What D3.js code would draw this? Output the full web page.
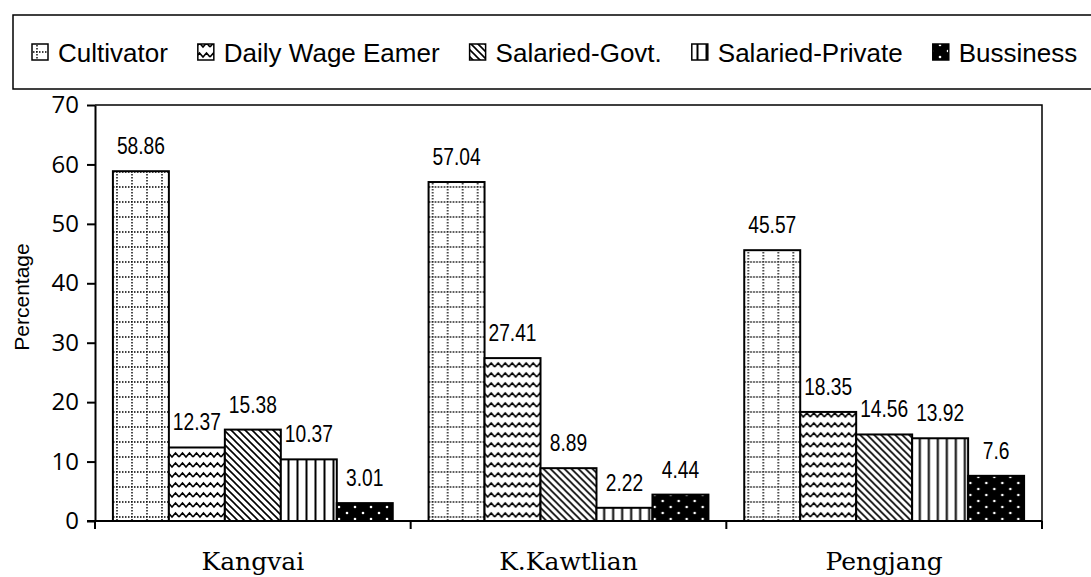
<!DOCTYPE html>
<html>
<head>
<meta charset="utf-8">
<script src="https://cdn.jsdelivr.net/npm/d3@7"></script>
<style>
  body { margin: 0; background: #fff; }
  svg { display: block; }
</style>
</head>
<body>
<svg id="chart" width="1091" height="577"></svg>
<script>
"use strict";

// --- data ---
const categories = ["Kangvai", "K.Kawtlian", "Pengjang"]
const seriesNames = ["Cultivator", "Daily Wage Eamer", "Salaried-Govt.", "Salaried-Private", "Bussiness"]
const cultivator      = [58.86, 57.04, 45.57]
const dailyWage       = [12.37, 27.41, 18.35]
const salariedGovt    = [15.38, 8.89, 14.56]
const salariedPrivate = [10.37, 2.22, 13.92]
const bussiness       = [3.01, 4.44, 7.6]
const seriesValues = [cultivator, dailyWage, salariedGovt, salariedPrivate, bussiness]
const yTicks = [0, 10, 20, 30, 40, 50, 60, 70]

const plot = { left: 95, right: 1042, top: 105, bottom: 521 }

const svg = d3.select("#chart")

// --- fill patterns ---
const defs = svg.append("defs")

function addPattern (id, w, h, build) {
    const p = defs.append("pattern")
        .attr("id", id)
        .attr("patternUnits", "userSpaceOnUse")
        .attr("width", w)
        .attr("height", h)
    build(p)
}

addPattern("pGrid", 15, 15, p => {
    p.append("rect").attr("width", 15).attr("height", 15).attr("fill", "#fff")
    p.append("path").attr("d", "M7,0 V15 M0,7 H15")
        .attr("stroke", "#000").attr("stroke-width", 1.4)
        .attr("stroke-dasharray", "1.5,1.5").attr("fill", "none")
})
addPattern("pZig", 14, 10, p => {
    p.append("rect").attr("width", 14).attr("height", 10).attr("fill", "#fff")
    p.append("path").attr("d", "M0,7 L3.5,3 L7,7 L10.5,3 L14,7")
        .attr("stroke", "#000").attr("stroke-width", 1.6).attr("fill", "none")
})
addPattern("pDiag", 7, 7, p => {
    p.append("rect").attr("width", 7).attr("height", 7).attr("fill", "#fff")
    p.append("path").attr("d", "M-1,-1 L8,8 M-1,6 L1,8 M6,-1 L8,1")
        .attr("stroke", "#000").attr("stroke-width", 1.6).attr("fill", "none")
})
addPattern("pVert", 9, 9, p => {
    p.append("rect").attr("width", 9).attr("height", 9).attr("fill", "#fff")
    p.append("path").attr("d", "M4.5,0 V9")
        .attr("stroke", "#000").attr("stroke-width", 2).attr("fill", "none")
})
addPattern("pDots", 16, 12, p => {
    p.append("rect").attr("width", 16).attr("height", 12).attr("fill", "#000")
    p.append("circle").attr("cx", 4).attr("cy", 3).attr("r", 1.3).attr("fill", "#fff")
    p.append("circle").attr("cx", 12).attr("cy", 9).attr("r", 1.3).attr("fill", "#fff")
})
const fills = ["url(#pGrid)", "url(#pZig)", "url(#pDiag)", "url(#pVert)", "url(#pDots)"]

// --- scales ---
const x0 = d3.scaleBand().domain(categories).range([plot.left, plot.right]).padding(0)
const x1 = d3.scaleBand().domain(d3.range(seriesNames.length))
    .range([0, x0.bandwidth()]).paddingInner(0).paddingOuter(0.32)
const y = d3.scaleLinear().domain([0, 70]).range([plot.bottom, plot.top])

// --- plot frame (top and right) ---
svg.append("path")
    .attr("d", `M${plot.left},${plot.top} H${plot.right} V${plot.bottom}`)
    .attr("fill", "none").attr("stroke", "#000").attr("stroke-width", 1.5)

// --- bars ---
const groups = svg.append("g").selectAll("g")
    .data(categories)
    .join("g")
    .attr("transform", d => `translate(${x0(d)},0)`)

const cells = (c, ci) => seriesValues.map((vals, si) => ({ si, v: vals[ci] }))

groups.selectAll("rect")
    .data(cells)
    .join("rect")
    .attr("x", d => x1(d.si))
    .attr("y", d => y(d.v))
    .attr("width", x1.bandwidth())
    .attr("height", d => y(0) - y(d.v))
    .attr("fill", d => fills[d.si])
    .attr("stroke", "#000")
    .attr("stroke-width", 2)

// value labels, narrow face faked with a horizontal squeeze
groups.selectAll("text")
    .data(cells)
    .join("text")
    .attr("transform", d => `translate(${x1(d.si) + x1.bandwidth() / 2},${y(d.v) - 17}) scale(0.8,1)`)
    .attr("text-anchor", "middle")
    .style("font-family", "'Liberation Sans', Arial, sans-serif")
    .style("font-size", "24px")
    .attr("fill", "#000")
    .text(d => d.v)

// --- y axis ---
const yAxis = d3.axisLeft(y).tickValues(yTicks).tickSize(8).tickSizeOuter(0).tickPadding(8)
const gy = svg.append("g").attr("transform", `translate(${plot.left},0)`).call(yAxis)
gy.select(".domain").attr("stroke-width", 2)
gy.selectAll(".tick line").attr("stroke-width", 2)
gy.selectAll(".tick text")
    .style("font-family", "'Open Sans', 'DejaVu Sans', sans-serif")
    .style("font-size", "24px")
    .attr("fill", "#000")

svg.append("text")
    .attr("transform", "translate(29,297) rotate(-90)")
    .attr("text-anchor", "middle")
    .style("font-family", "'Liberation Sans', Arial, sans-serif")
    .style("font-size", "21px")
    .text("Percentage")

// --- x axis: ticks at category boundaries ---
const gx = svg.append("g").attr("transform", `translate(0,${plot.bottom})`)
gx.append("line")
    .attr("x1", plot.left - 8).attr("x2", plot.right)
    .attr("stroke", "#000").attr("stroke-width", 2)
const bounds = categories.map(c => x0(c)).concat([x0(categories[categories.length - 1]) + x0.bandwidth()])
gx.selectAll("line.tick")
    .data(bounds)
    .join("line")
    .attr("class", "tick")
    .attr("x1", d => d).attr("x2", d => d)
    .attr("y1", 0).attr("y2", 8)
    .attr("stroke", "#000").attr("stroke-width", 2)
gx.selectAll("text")
    .data(categories)
    .join("text")
    .attr("x", d => x0(d) + x0.bandwidth() / 2)
    .attr("y", 49)
    .attr("text-anchor", "middle")
    .style("font-family", "'DejaVu Serif', serif")
    .style("font-size", "25px")
    .text(d => d)

// --- legend ---
const legend = svg.append("g")
legend.append("rect")
    .attr("x", 13).attr("y", 15).attr("width", 1100).attr("height", 74)
    .attr("fill", "#fff").attr("stroke", "#000").attr("stroke-width", 1.5)

let lx = 32
seriesNames.forEach((name, i) => {
    const item = legend.append("g")
    item.append("rect")
        .attr("x", lx).attr("y", 44).attr("width", 16).attr("height", 16)
        .attr("fill", fills[i]).attr("stroke", "#000").attr("stroke-width", 1.5)
    const t = item.append("text")
        .attr("x", lx + 26).attr("y", 62)
        .style("font-family", "'Liberation Sans', Arial, sans-serif")
        .style("font-size", "26px")
        .text(name)
    lx += 26 + t.node().getComputedTextLength() + 30
})
</script>
</body>
</html>
